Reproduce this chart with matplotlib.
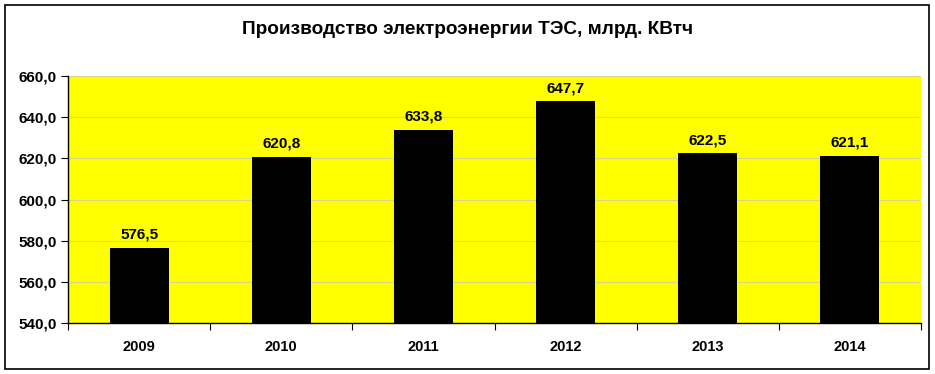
import matplotlib
matplotlib.use('Agg')
import matplotlib.pyplot as plt
import matplotlib.patches as mpatches
from matplotlib.ticker import FuncFormatter, FixedLocator
import numpy as np

years = ['2009', '2010', '2011', '2012', '2013', '2014']
values = [576.5, 620.8, 633.8, 647.7, 622.5, 621.1]
title = 'Производство электроэнергии ТЭС, млрд. КВтч'

plt.rcParams['font.family'] = ['Liberation Sans', 'DejaVu Sans']

W, H = 935, 374
fig = plt.figure(figsize=(W / 100, H / 100), dpi=100)
fig.patch.set_facecolor('white')

# outer frame
fig.add_artist(mpatches.Rectangle((5 / W, 1 - 369 / H), 924 / W, 364 / H,
                                  transform=fig.transFigure, fill=False,
                                  edgecolor='black', linewidth=1.2))

left, right, top, bottom = 68, 921, 76, 323
ax = fig.add_axes([left / W, 1 - bottom / H, (right - left) / W, (bottom - top) / H])
ax.set_facecolor('#ffff00')

x = np.arange(len(years))
ax.bar(x, values, width=0.415, color='black', zorder=3)
for xi, v in zip(x, values):
    ax.text(xi, v + 3, ('%.1f' % v).replace('.', ','), ha='center', va='bottom',
            fontsize=11, fontweight='bold', zorder=4)

ax.set_xlim(-0.5, len(years) - 0.5)
ax.set_ylim(540, 660)
ax.set_yticks(np.arange(540, 661, 20))
ax.yaxis.set_major_formatter(FuncFormatter(lambda v, p: ('%.1f' % v).replace('.', ',')))
ax.yaxis.grid(True, color='#d6d68f', linewidth=0.8, zorder=0)
ax.set_axisbelow(True)

# categories centred, ticks on boundaries
ax.xaxis.set_major_locator(FixedLocator(np.arange(-0.5, len(years), 1.0)))
ax.xaxis.set_major_formatter(FuncFormatter(lambda v, p: ''))
ax.xaxis.set_minor_locator(FixedLocator(x))
ax.set_xticklabels(years, minor=True)
ax.tick_params(axis='x', which='minor', length=0, pad=12, labelsize=10.5)
ax.tick_params(axis='x', which='major', length=5, direction='out')
ax.tick_params(axis='y', length=5, direction='out', pad=3, labelsize=11)
for lbl in ax.get_xticklabels(minor=True) + ax.get_yticklabels():
    lbl.set_fontweight('bold')

for side in ['top', 'right']:
    ax.spines[side].set_visible(False)
ax.spines['left'].set_linewidth(1.0)
ax.spines['bottom'].set_linewidth(1.0)

fig.text(0.5, 1 - 30 / H, title, ha='center', va='center', fontsize=13.7, fontweight='bold')

plt.savefig('out.png', dpi=100)
